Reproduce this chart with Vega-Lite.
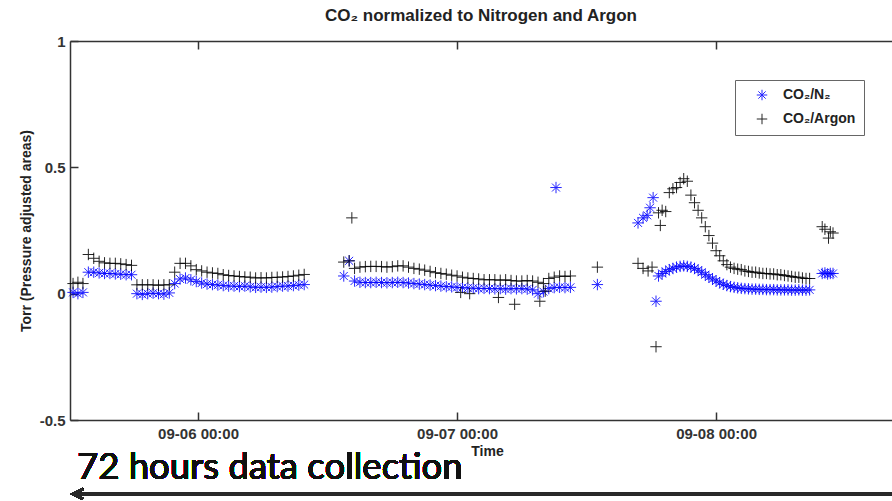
{
  "$schema": "https://vega.github.io/schema/vega-lite/v6.json",
  "width": 822,
  "height": 379,
  "autosize": {"type": "none"},
  "padding": {"left": 70, "top": 41, "right": 0, "bottom": 81},
  "background": "white",
  "title": {"text": "CO₂ normalized to Nitrogen and Argon", "font": "Liberation Sans", "fontSize": 17, "fontWeight": "bold", "color": "#222", "anchor": "middle", "baseline": "alphabetic", "offset": -4, "frame": "group"},
  "config": {
    "view": {"stroke": null},
    "axis": {"labelFont": "Liberation Sans", "labelFontSize": 15, "labelFontWeight": "bold", "labelColor": "#333", "titleFont": "Liberation Sans", "titleFontSize": 14, "titleFontWeight": "bold", "titleColor": "#222", "domainColor": "#333", "domainWidth": 1.5, "tickColor": "#333", "tickWidth": 1.5, "grid": false, "labelFlush": false, "labelOverlap": false}
  },
  "resolve": {"axis": {"x": "independent", "y": "independent"}},
  "data": {"values": [
    {"t": "2013-09-05T12:25", "s": "CO₂/N₂", "v": 0.005},
    {"t": "2013-09-05T12:52", "s": "CO₂/N₂", "v": 0.0},
    {"t": "2013-09-05T13:20", "s": "CO₂/N₂", "v": 0.005},
    {"t": "2013-09-05T13:50", "s": "CO₂/N₂", "v": 0.085},
    {"t": "2013-09-05T14:20", "s": "CO₂/N₂", "v": 0.085},
    {"t": "2013-09-05T14:50", "s": "CO₂/N₂", "v": 0.082},
    {"t": "2013-09-05T15:20", "s": "CO₂/N₂", "v": 0.08},
    {"t": "2013-09-05T15:50", "s": "CO₂/N₂", "v": 0.08},
    {"t": "2013-09-05T16:20", "s": "CO₂/N₂", "v": 0.078},
    {"t": "2013-09-05T16:50", "s": "CO₂/N₂", "v": 0.077},
    {"t": "2013-09-05T17:20", "s": "CO₂/N₂", "v": 0.075},
    {"t": "2013-09-05T17:50", "s": "CO₂/N₂", "v": 0.075},
    {"t": "2013-09-05T18:20", "s": "CO₂/N₂", "v": 0.0},
    {"t": "2013-09-05T18:50", "s": "CO₂/N₂", "v": -0.003},
    {"t": "2013-09-05T19:20", "s": "CO₂/N₂", "v": 0.0},
    {"t": "2013-09-05T19:50", "s": "CO₂/N₂", "v": 0.002},
    {"t": "2013-09-05T20:20", "s": "CO₂/N₂", "v": 0.0},
    {"t": "2013-09-05T20:50", "s": "CO₂/N₂", "v": -0.002},
    {"t": "2013-09-05T21:20", "s": "CO₂/N₂", "v": 0.003},
    {"t": "2013-09-05T21:50", "s": "CO₂/N₂", "v": 0.04},
    {"t": "2013-09-05T22:20", "s": "CO₂/N₂", "v": 0.058},
    {"t": "2013-09-05T22:50", "s": "CO₂/N₂", "v": 0.062},
    {"t": "2013-09-05T23:20", "s": "CO₂/N₂", "v": 0.055},
    {"t": "2013-09-05T23:50", "s": "CO₂/N₂", "v": 0.048},
    {"t": "2013-09-06T00:20", "s": "CO₂/N₂", "v": 0.042},
    {"t": "2013-09-06T00:50", "s": "CO₂/N₂", "v": 0.038},
    {"t": "2013-09-06T01:20", "s": "CO₂/N₂", "v": 0.036},
    {"t": "2013-09-06T01:50", "s": "CO₂/N₂", "v": 0.034},
    {"t": "2013-09-06T02:20", "s": "CO₂/N₂", "v": 0.032},
    {"t": "2013-09-06T02:50", "s": "CO₂/N₂", "v": 0.03},
    {"t": "2013-09-06T03:20", "s": "CO₂/N₂", "v": 0.03},
    {"t": "2013-09-06T03:50", "s": "CO₂/N₂", "v": 0.028},
    {"t": "2013-09-06T04:20", "s": "CO₂/N₂", "v": 0.03},
    {"t": "2013-09-06T04:50", "s": "CO₂/N₂", "v": 0.027},
    {"t": "2013-09-06T05:20", "s": "CO₂/N₂", "v": 0.025},
    {"t": "2013-09-06T05:50", "s": "CO₂/N₂", "v": 0.026},
    {"t": "2013-09-06T06:20", "s": "CO₂/N₂", "v": 0.025},
    {"t": "2013-09-06T06:50", "s": "CO₂/N₂", "v": 0.026},
    {"t": "2013-09-06T07:20", "s": "CO₂/N₂", "v": 0.028},
    {"t": "2013-09-06T07:50", "s": "CO₂/N₂", "v": 0.03},
    {"t": "2013-09-06T08:20", "s": "CO₂/N₂", "v": 0.03},
    {"t": "2013-09-06T08:50", "s": "CO₂/N₂", "v": 0.032},
    {"t": "2013-09-06T09:20", "s": "CO₂/N₂", "v": 0.034},
    {"t": "2013-09-06T09:50", "s": "CO₂/N₂", "v": 0.036},
    {"t": "2013-09-06T13:30", "s": "CO₂/N₂", "v": 0.07},
    {"t": "2013-09-06T14:00", "s": "CO₂/N₂", "v": 0.13},
    {"t": "2013-09-06T14:30", "s": "CO₂/N₂", "v": 0.05},
    {"t": "2013-09-06T15:00", "s": "CO₂/N₂", "v": 0.045},
    {"t": "2013-09-06T15:30", "s": "CO₂/N₂", "v": 0.044},
    {"t": "2013-09-06T16:00", "s": "CO₂/N₂", "v": 0.044},
    {"t": "2013-09-06T16:30", "s": "CO₂/N₂", "v": 0.045},
    {"t": "2013-09-06T17:00", "s": "CO₂/N₂", "v": 0.044},
    {"t": "2013-09-06T17:30", "s": "CO₂/N₂", "v": 0.043},
    {"t": "2013-09-06T18:00", "s": "CO₂/N₂", "v": 0.044},
    {"t": "2013-09-06T18:30", "s": "CO₂/N₂", "v": 0.045},
    {"t": "2013-09-06T19:00", "s": "CO₂/N₂", "v": 0.044},
    {"t": "2013-09-06T19:30", "s": "CO₂/N₂", "v": 0.042},
    {"t": "2013-09-06T20:00", "s": "CO₂/N₂", "v": 0.04},
    {"t": "2013-09-06T20:30", "s": "CO₂/N₂", "v": 0.038},
    {"t": "2013-09-06T21:00", "s": "CO₂/N₂", "v": 0.036},
    {"t": "2013-09-06T21:30", "s": "CO₂/N₂", "v": 0.034},
    {"t": "2013-09-06T22:00", "s": "CO₂/N₂", "v": 0.032},
    {"t": "2013-09-06T22:30", "s": "CO₂/N₂", "v": 0.03},
    {"t": "2013-09-06T23:00", "s": "CO₂/N₂", "v": 0.028},
    {"t": "2013-09-06T23:30", "s": "CO₂/N₂", "v": 0.027},
    {"t": "2013-09-07T00:00", "s": "CO₂/N₂", "v": 0.025},
    {"t": "2013-09-07T00:30", "s": "CO₂/N₂", "v": 0.024},
    {"t": "2013-09-07T01:00", "s": "CO₂/N₂", "v": 0.022},
    {"t": "2013-09-07T01:30", "s": "CO₂/N₂", "v": 0.022},
    {"t": "2013-09-07T02:00", "s": "CO₂/N₂", "v": 0.02},
    {"t": "2013-09-07T02:30", "s": "CO₂/N₂", "v": 0.021},
    {"t": "2013-09-07T03:00", "s": "CO₂/N₂", "v": 0.02},
    {"t": "2013-09-07T03:30", "s": "CO₂/N₂", "v": 0.019},
    {"t": "2013-09-07T04:00", "s": "CO₂/N₂", "v": 0.02},
    {"t": "2013-09-07T04:30", "s": "CO₂/N₂", "v": 0.018},
    {"t": "2013-09-07T05:00", "s": "CO₂/N₂", "v": 0.02},
    {"t": "2013-09-07T05:30", "s": "CO₂/N₂", "v": 0.019},
    {"t": "2013-09-07T06:00", "s": "CO₂/N₂", "v": 0.02},
    {"t": "2013-09-07T06:30", "s": "CO₂/N₂", "v": 0.018},
    {"t": "2013-09-07T07:00", "s": "CO₂/N₂", "v": 0.015},
    {"t": "2013-09-07T07:30", "s": "CO₂/N₂", "v": 0.0},
    {"t": "2013-09-07T08:00", "s": "CO₂/N₂", "v": 0.008},
    {"t": "2013-09-07T08:30", "s": "CO₂/N₂", "v": 0.02},
    {"t": "2013-09-07T09:00", "s": "CO₂/N₂", "v": 0.024},
    {"t": "2013-09-07T09:10", "s": "CO₂/N₂", "v": 0.42},
    {"t": "2013-09-07T09:30", "s": "CO₂/N₂", "v": 0.025},
    {"t": "2013-09-07T10:00", "s": "CO₂/N₂", "v": 0.024},
    {"t": "2013-09-07T10:30", "s": "CO₂/N₂", "v": 0.025},
    {"t": "2013-09-07T13:00", "s": "CO₂/N₂", "v": 0.036},
    {"t": "2013-09-07T16:46", "s": "CO₂/N₂", "v": 0.28},
    {"t": "2013-09-07T17:14", "s": "CO₂/N₂", "v": 0.3},
    {"t": "2013-09-07T17:37", "s": "CO₂/N₂", "v": 0.31},
    {"t": "2013-09-07T17:53", "s": "CO₂/N₂", "v": 0.34},
    {"t": "2013-09-07T18:10", "s": "CO₂/N₂", "v": 0.38},
    {"t": "2013-09-07T18:26", "s": "CO₂/N₂", "v": -0.03},
    {"t": "2013-09-07T18:40", "s": "CO₂/N₂", "v": 0.07},
    {"t": "2013-09-07T19:00", "s": "CO₂/N₂", "v": 0.08},
    {"t": "2013-09-07T19:20", "s": "CO₂/N₂", "v": 0.088},
    {"t": "2013-09-07T19:40", "s": "CO₂/N₂", "v": 0.095},
    {"t": "2013-09-07T20:00", "s": "CO₂/N₂", "v": 0.1},
    {"t": "2013-09-07T20:20", "s": "CO₂/N₂", "v": 0.105},
    {"t": "2013-09-07T20:40", "s": "CO₂/N₂", "v": 0.108},
    {"t": "2013-09-07T21:00", "s": "CO₂/N₂", "v": 0.11},
    {"t": "2013-09-07T21:20", "s": "CO₂/N₂", "v": 0.108},
    {"t": "2013-09-07T21:40", "s": "CO₂/N₂", "v": 0.105},
    {"t": "2013-09-07T22:00", "s": "CO₂/N₂", "v": 0.1},
    {"t": "2013-09-07T22:20", "s": "CO₂/N₂", "v": 0.093},
    {"t": "2013-09-07T22:40", "s": "CO₂/N₂", "v": 0.085},
    {"t": "2013-09-07T23:00", "s": "CO₂/N₂", "v": 0.075},
    {"t": "2013-09-07T23:20", "s": "CO₂/N₂", "v": 0.066},
    {"t": "2013-09-07T23:40", "s": "CO₂/N₂", "v": 0.058},
    {"t": "2013-09-08T00:00", "s": "CO₂/N₂", "v": 0.05},
    {"t": "2013-09-08T00:20", "s": "CO₂/N₂", "v": 0.043},
    {"t": "2013-09-08T00:40", "s": "CO₂/N₂", "v": 0.037},
    {"t": "2013-09-08T01:00", "s": "CO₂/N₂", "v": 0.032},
    {"t": "2013-09-08T01:20", "s": "CO₂/N₂", "v": 0.028},
    {"t": "2013-09-08T01:40", "s": "CO₂/N₂", "v": 0.025},
    {"t": "2013-09-08T02:00", "s": "CO₂/N₂", "v": 0.023},
    {"t": "2013-09-08T02:20", "s": "CO₂/N₂", "v": 0.021},
    {"t": "2013-09-08T02:40", "s": "CO₂/N₂", "v": 0.02},
    {"t": "2013-09-08T03:00", "s": "CO₂/N₂", "v": 0.019},
    {"t": "2013-09-08T03:20", "s": "CO₂/N₂", "v": 0.018},
    {"t": "2013-09-08T03:40", "s": "CO₂/N₂", "v": 0.018},
    {"t": "2013-09-08T04:00", "s": "CO₂/N₂", "v": 0.017},
    {"t": "2013-09-08T04:20", "s": "CO₂/N₂", "v": 0.017},
    {"t": "2013-09-08T04:40", "s": "CO₂/N₂", "v": 0.016},
    {"t": "2013-09-08T05:00", "s": "CO₂/N₂", "v": 0.016},
    {"t": "2013-09-08T05:20", "s": "CO₂/N₂", "v": 0.016},
    {"t": "2013-09-08T05:40", "s": "CO₂/N₂", "v": 0.015},
    {"t": "2013-09-08T06:00", "s": "CO₂/N₂", "v": 0.015},
    {"t": "2013-09-08T06:20", "s": "CO₂/N₂", "v": 0.015},
    {"t": "2013-09-08T06:40", "s": "CO₂/N₂", "v": 0.015},
    {"t": "2013-09-08T07:00", "s": "CO₂/N₂", "v": 0.014},
    {"t": "2013-09-08T07:20", "s": "CO₂/N₂", "v": 0.014},
    {"t": "2013-09-08T07:40", "s": "CO₂/N₂", "v": 0.015},
    {"t": "2013-09-08T08:00", "s": "CO₂/N₂", "v": 0.014},
    {"t": "2013-09-08T08:20", "s": "CO₂/N₂", "v": 0.014},
    {"t": "2013-09-08T08:40", "s": "CO₂/N₂", "v": 0.015},
    {"t": "2013-09-08T09:50", "s": "CO₂/N₂", "v": 0.08},
    {"t": "2013-09-08T10:05", "s": "CO₂/N₂", "v": 0.082},
    {"t": "2013-09-08T10:20", "s": "CO₂/N₂", "v": 0.078},
    {"t": "2013-09-08T10:35", "s": "CO₂/N₂", "v": 0.08},
    {"t": "2013-09-08T10:50", "s": "CO₂/N₂", "v": 0.08},

    {"t": "2013-09-05T12:25", "s": "CO₂/Argon", "v": 0.04},
    {"t": "2013-09-05T12:52", "s": "CO₂/Argon", "v": 0.045},
    {"t": "2013-09-05T13:20", "s": "CO₂/Argon", "v": 0.04},
    {"t": "2013-09-05T13:50", "s": "CO₂/Argon", "v": 0.155},
    {"t": "2013-09-05T14:20", "s": "CO₂/Argon", "v": 0.14},
    {"t": "2013-09-05T14:50", "s": "CO₂/Argon", "v": 0.128},
    {"t": "2013-09-05T15:20", "s": "CO₂/Argon", "v": 0.122},
    {"t": "2013-09-05T15:50", "s": "CO₂/Argon", "v": 0.12},
    {"t": "2013-09-05T16:20", "s": "CO₂/Argon", "v": 0.12},
    {"t": "2013-09-05T16:50", "s": "CO₂/Argon", "v": 0.118},
    {"t": "2013-09-05T17:20", "s": "CO₂/Argon", "v": 0.115},
    {"t": "2013-09-05T17:50", "s": "CO₂/Argon", "v": 0.112},
    {"t": "2013-09-05T18:20", "s": "CO₂/Argon", "v": 0.035},
    {"t": "2013-09-05T18:50", "s": "CO₂/Argon", "v": 0.035},
    {"t": "2013-09-05T19:20", "s": "CO₂/Argon", "v": 0.035},
    {"t": "2013-09-05T19:50", "s": "CO₂/Argon", "v": 0.035},
    {"t": "2013-09-05T20:20", "s": "CO₂/Argon", "v": 0.033},
    {"t": "2013-09-05T20:50", "s": "CO₂/Argon", "v": 0.035},
    {"t": "2013-09-05T21:20", "s": "CO₂/Argon", "v": 0.035},
    {"t": "2013-09-05T21:50", "s": "CO₂/Argon", "v": 0.085},
    {"t": "2013-09-05T22:20", "s": "CO₂/Argon", "v": 0.12},
    {"t": "2013-09-05T22:50", "s": "CO₂/Argon", "v": 0.12},
    {"t": "2013-09-05T23:20", "s": "CO₂/Argon", "v": 0.11},
    {"t": "2013-09-05T23:50", "s": "CO₂/Argon", "v": 0.095},
    {"t": "2013-09-06T00:20", "s": "CO₂/Argon", "v": 0.09},
    {"t": "2013-09-06T00:50", "s": "CO₂/Argon", "v": 0.085},
    {"t": "2013-09-06T01:20", "s": "CO₂/Argon", "v": 0.082},
    {"t": "2013-09-06T01:50", "s": "CO₂/Argon", "v": 0.08},
    {"t": "2013-09-06T02:20", "s": "CO₂/Argon", "v": 0.075},
    {"t": "2013-09-06T02:50", "s": "CO₂/Argon", "v": 0.072},
    {"t": "2013-09-06T03:20", "s": "CO₂/Argon", "v": 0.07},
    {"t": "2013-09-06T03:50", "s": "CO₂/Argon", "v": 0.068},
    {"t": "2013-09-06T04:20", "s": "CO₂/Argon", "v": 0.066},
    {"t": "2013-09-06T04:50", "s": "CO₂/Argon", "v": 0.065},
    {"t": "2013-09-06T05:20", "s": "CO₂/Argon", "v": 0.062},
    {"t": "2013-09-06T05:50", "s": "CO₂/Argon", "v": 0.063},
    {"t": "2013-09-06T06:20", "s": "CO₂/Argon", "v": 0.062},
    {"t": "2013-09-06T06:50", "s": "CO₂/Argon", "v": 0.064},
    {"t": "2013-09-06T07:20", "s": "CO₂/Argon", "v": 0.065},
    {"t": "2013-09-06T07:50", "s": "CO₂/Argon", "v": 0.066},
    {"t": "2013-09-06T08:20", "s": "CO₂/Argon", "v": 0.068},
    {"t": "2013-09-06T08:50", "s": "CO₂/Argon", "v": 0.07},
    {"t": "2013-09-06T09:20", "s": "CO₂/Argon", "v": 0.073},
    {"t": "2013-09-06T09:50", "s": "CO₂/Argon", "v": 0.076},
    {"t": "2013-09-06T13:30", "s": "CO₂/Argon", "v": 0.125},
    {"t": "2013-09-06T14:00", "s": "CO₂/Argon", "v": 0.13},
    {"t": "2013-09-06T14:15", "s": "CO₂/Argon", "v": 0.3},
    {"t": "2013-09-06T14:30", "s": "CO₂/Argon", "v": 0.1},
    {"t": "2013-09-06T15:00", "s": "CO₂/Argon", "v": 0.105},
    {"t": "2013-09-06T15:30", "s": "CO₂/Argon", "v": 0.107},
    {"t": "2013-09-06T16:00", "s": "CO₂/Argon", "v": 0.108},
    {"t": "2013-09-06T16:30", "s": "CO₂/Argon", "v": 0.108},
    {"t": "2013-09-06T17:00", "s": "CO₂/Argon", "v": 0.107},
    {"t": "2013-09-06T17:30", "s": "CO₂/Argon", "v": 0.105},
    {"t": "2013-09-06T18:00", "s": "CO₂/Argon", "v": 0.107},
    {"t": "2013-09-06T18:30", "s": "CO₂/Argon", "v": 0.11},
    {"t": "2013-09-06T19:00", "s": "CO₂/Argon", "v": 0.11},
    {"t": "2013-09-06T19:30", "s": "CO₂/Argon", "v": 0.105},
    {"t": "2013-09-06T20:00", "s": "CO₂/Argon", "v": 0.1},
    {"t": "2013-09-06T20:30", "s": "CO₂/Argon", "v": 0.097},
    {"t": "2013-09-06T21:00", "s": "CO₂/Argon", "v": 0.093},
    {"t": "2013-09-06T21:30", "s": "CO₂/Argon", "v": 0.088},
    {"t": "2013-09-06T22:00", "s": "CO₂/Argon", "v": 0.083},
    {"t": "2013-09-06T22:30", "s": "CO₂/Argon", "v": 0.08},
    {"t": "2013-09-06T23:00", "s": "CO₂/Argon", "v": 0.077},
    {"t": "2013-09-06T23:30", "s": "CO₂/Argon", "v": 0.073},
    {"t": "2013-09-07T00:00", "s": "CO₂/Argon", "v": 0.07},
    {"t": "2013-09-07T00:20", "s": "CO₂/Argon", "v": 0.005},
    {"t": "2013-09-07T00:30", "s": "CO₂/Argon", "v": 0.065},
    {"t": "2013-09-07T01:00", "s": "CO₂/Argon", "v": 0.062},
    {"t": "2013-09-07T01:10", "s": "CO₂/Argon", "v": 0.0},
    {"t": "2013-09-07T01:30", "s": "CO₂/Argon", "v": 0.06},
    {"t": "2013-09-07T02:00", "s": "CO₂/Argon", "v": 0.058},
    {"t": "2013-09-07T02:30", "s": "CO₂/Argon", "v": 0.055},
    {"t": "2013-09-07T03:00", "s": "CO₂/Argon", "v": 0.055},
    {"t": "2013-09-07T03:30", "s": "CO₂/Argon", "v": 0.055},
    {"t": "2013-09-07T03:50", "s": "CO₂/Argon", "v": -0.015},
    {"t": "2013-09-07T04:00", "s": "CO₂/Argon", "v": 0.053},
    {"t": "2013-09-07T04:30", "s": "CO₂/Argon", "v": 0.055},
    {"t": "2013-09-07T05:00", "s": "CO₂/Argon", "v": 0.052},
    {"t": "2013-09-07T05:20", "s": "CO₂/Argon", "v": -0.042},
    {"t": "2013-09-07T05:30", "s": "CO₂/Argon", "v": 0.05},
    {"t": "2013-09-07T06:00", "s": "CO₂/Argon", "v": 0.05},
    {"t": "2013-09-07T06:30", "s": "CO₂/Argon", "v": 0.052},
    {"t": "2013-09-07T07:00", "s": "CO₂/Argon", "v": 0.05},
    {"t": "2013-09-07T07:30", "s": "CO₂/Argon", "v": 0.045},
    {"t": "2013-09-07T07:40", "s": "CO₂/Argon", "v": -0.03},
    {"t": "2013-09-07T08:00", "s": "CO₂/Argon", "v": 0.04},
    {"t": "2013-09-07T08:10", "s": "CO₂/Argon", "v": 0.01},
    {"t": "2013-09-07T08:30", "s": "CO₂/Argon", "v": 0.06},
    {"t": "2013-09-07T09:00", "s": "CO₂/Argon", "v": 0.065},
    {"t": "2013-09-07T09:30", "s": "CO₂/Argon", "v": 0.07},
    {"t": "2013-09-07T10:00", "s": "CO₂/Argon", "v": 0.068},
    {"t": "2013-09-07T10:30", "s": "CO₂/Argon", "v": 0.07},
    {"t": "2013-09-07T13:00", "s": "CO₂/Argon", "v": 0.105},
    {"t": "2013-09-07T16:46", "s": "CO₂/Argon", "v": 0.12},
    {"t": "2013-09-07T17:14", "s": "CO₂/Argon", "v": 0.1},
    {"t": "2013-09-07T17:42", "s": "CO₂/Argon", "v": 0.09},
    {"t": "2013-09-07T18:04", "s": "CO₂/Argon", "v": 0.105},
    {"t": "2013-09-07T18:26", "s": "CO₂/Argon", "v": -0.21},
    {"t": "2013-09-07T18:40", "s": "CO₂/Argon", "v": 0.32},
    {"t": "2013-09-07T18:50", "s": "CO₂/Argon", "v": 0.27},
    {"t": "2013-09-07T19:00", "s": "CO₂/Argon", "v": 0.33},
    {"t": "2013-09-07T19:20", "s": "CO₂/Argon", "v": 0.325},
    {"t": "2013-09-07T19:40", "s": "CO₂/Argon", "v": 0.4},
    {"t": "2013-09-07T20:00", "s": "CO₂/Argon", "v": 0.415},
    {"t": "2013-09-07T20:20", "s": "CO₂/Argon", "v": 0.42},
    {"t": "2013-09-07T20:40", "s": "CO₂/Argon", "v": 0.44},
    {"t": "2013-09-07T21:00", "s": "CO₂/Argon", "v": 0.455},
    {"t": "2013-09-07T21:20", "s": "CO₂/Argon", "v": 0.445},
    {"t": "2013-09-07T21:40", "s": "CO₂/Argon", "v": 0.39},
    {"t": "2013-09-07T22:00", "s": "CO₂/Argon", "v": 0.36},
    {"t": "2013-09-07T22:20", "s": "CO₂/Argon", "v": 0.33},
    {"t": "2013-09-07T22:40", "s": "CO₂/Argon", "v": 0.3},
    {"t": "2013-09-07T23:00", "s": "CO₂/Argon", "v": 0.265},
    {"t": "2013-09-07T23:20", "s": "CO₂/Argon", "v": 0.23},
    {"t": "2013-09-07T23:40", "s": "CO₂/Argon", "v": 0.2},
    {"t": "2013-09-08T00:00", "s": "CO₂/Argon", "v": 0.17},
    {"t": "2013-09-08T00:20", "s": "CO₂/Argon", "v": 0.15},
    {"t": "2013-09-08T00:40", "s": "CO₂/Argon", "v": 0.13},
    {"t": "2013-09-08T01:00", "s": "CO₂/Argon", "v": 0.115},
    {"t": "2013-09-08T01:20", "s": "CO₂/Argon", "v": 0.105},
    {"t": "2013-09-08T01:40", "s": "CO₂/Argon", "v": 0.1},
    {"t": "2013-09-08T02:00", "s": "CO₂/Argon", "v": 0.097},
    {"t": "2013-09-08T02:20", "s": "CO₂/Argon", "v": 0.095},
    {"t": "2013-09-08T02:40", "s": "CO₂/Argon", "v": 0.09},
    {"t": "2013-09-08T03:00", "s": "CO₂/Argon", "v": 0.088},
    {"t": "2013-09-08T03:20", "s": "CO₂/Argon", "v": 0.085},
    {"t": "2013-09-08T03:40", "s": "CO₂/Argon", "v": 0.085},
    {"t": "2013-09-08T04:00", "s": "CO₂/Argon", "v": 0.082},
    {"t": "2013-09-08T04:20", "s": "CO₂/Argon", "v": 0.08},
    {"t": "2013-09-08T04:40", "s": "CO₂/Argon", "v": 0.08},
    {"t": "2013-09-08T05:00", "s": "CO₂/Argon", "v": 0.078},
    {"t": "2013-09-08T05:20", "s": "CO₂/Argon", "v": 0.078},
    {"t": "2013-09-08T05:40", "s": "CO₂/Argon", "v": 0.075},
    {"t": "2013-09-08T06:00", "s": "CO₂/Argon", "v": 0.075},
    {"t": "2013-09-08T06:20", "s": "CO₂/Argon", "v": 0.072},
    {"t": "2013-09-08T06:40", "s": "CO₂/Argon", "v": 0.07},
    {"t": "2013-09-08T07:00", "s": "CO₂/Argon", "v": 0.068},
    {"t": "2013-09-08T07:20", "s": "CO₂/Argon", "v": 0.065},
    {"t": "2013-09-08T07:40", "s": "CO₂/Argon", "v": 0.065},
    {"t": "2013-09-08T08:00", "s": "CO₂/Argon", "v": 0.062},
    {"t": "2013-09-08T08:20", "s": "CO₂/Argon", "v": 0.06},
    {"t": "2013-09-08T08:40", "s": "CO₂/Argon", "v": 0.06},
    {"t": "2013-09-08T09:50", "s": "CO₂/Argon", "v": 0.265},
    {"t": "2013-09-08T10:05", "s": "CO₂/Argon", "v": 0.255},
    {"t": "2013-09-08T10:25", "s": "CO₂/Argon", "v": 0.22},
    {"t": "2013-09-08T10:35", "s": "CO₂/Argon", "v": 0.245},
    {"t": "2013-09-08T10:50", "s": "CO₂/Argon", "v": 0.24}
  ]},
  "layer": [
    {
      "mark": {"type": "point", "filled": false, "strokeWidth": 1, "size": 130, "opacity": 0.85},
      "encoding": {
        "x": {"field": "t", "type": "temporal",
          "scale": {"domain": [{"year": 2013, "month": 9, "date": 5, "hours": 12, "minutes": 8}, {"year": 2013, "month": 9, "date": 8, "hours": 16, "minutes": 18}]},
          "axis": {"orient": "bottom", "title": "Time", "format": "%m-%d %H:%M",
            "values": [{"year": 2013, "month": 9, "date": 6}, {"year": 2013, "month": 9, "date": 7}, {"year": 2013, "month": 9, "date": 8}],
            "tickSize": -8, "labelPadding": 14, "titlePadding": 3, "titleX": 417}},
        "y": {"field": "v", "type": "quantitative",
          "scale": {"domain": [-0.5, 1], "nice": false, "zero": false},
          "axis": {"orient": "left", "title": "Torr (Pressure adjusted areas)", "values": [-0.5, 0, 0.5, 1],
            "labelExpr": "datum.value < 0 ? '-' + format(-datum.value, '~g') : format(datum.value, '~g')",
            "tickSize": -8, "labelPadding": 13, "titlePadding": 6}},
        "color": {"field": "s", "type": "nominal",
          "scale": {"domain": ["CO₂/N₂", "CO₂/Argon"], "range": ["#0000ff", "#000000"]},
          "legend": {"orient": "none", "legendX": 665, "legendY": 39, "title": null, "strokeColor": "#666", "fillColor": "#ffffff", "padding": 8, "labelFont": "Liberation Sans", "labelFontSize": 14, "labelFontWeight": "bold", "labelColor": "#222", "symbolOffset": 12, "labelOffset": 14, "rowPadding": 8, "symbolStrokeWidth": 1, "symbolSize": 110}},
        "shape": {"field": "s", "type": "nominal",
          "scale": {"domain": ["CO₂/N₂", "CO₂/Argon"], "range": ["M-1,0L1,0M0,-1L0,1M-0.7,-0.7L0.7,0.7M-0.7,0.7L0.7,-0.7", "M-1,0L1,0M0,-1L0,1"]},
          "legend": {"orient": "none", "legendX": 665, "legendY": 39, "title": null, "strokeColor": "#666", "fillColor": "#ffffff", "padding": 8, "labelFont": "Liberation Sans", "labelFontSize": 14, "labelFontWeight": "bold", "labelColor": "#222", "symbolOffset": 12, "labelOffset": 14, "rowPadding": 8, "symbolStrokeWidth": 1, "symbolSize": 110}}
      }
    },
    {
      "mark": {"type": "rule", "strokeWidth": 2.5, "color": "#2a2a2a"},
      "encoding": {
        "x": {"datum": {"year": 2013, "month": 9, "date": 5, "hours": 12, "minutes": 25}, "type": "temporal",
          "scale": {"domain": [{"year": 2013, "month": 9, "date": 5, "hours": 12, "minutes": 8}, {"year": 2013, "month": 9, "date": 8, "hours": 16, "minutes": 18}]},
          "axis": {"orient": "top", "labels": false, "title": null, "domain": true, "ticks": true, "tickSize": -8,
            "values": [{"year": 2013, "month": 9, "date": 6}, {"year": 2013, "month": 9, "date": 7}, {"year": 2013, "month": 9, "date": 8}]}},
        "x2": {"datum": {"year": 2013, "month": 9, "date": 8, "hours": 16, "minutes": 18}},
        "y": {"datum": -0.7928, "type": "quantitative", "scale": {"domain": [-0.5, 1], "nice": false, "zero": false}, "axis": null}
      }
    },
    {
      "mark": {"type": "point", "shape": "M1,-1L-1,0L1,1", "filled": false, "size": 100, "strokeWidth": 2.5, "color": "#2a2a2a", "opacity": 1},
      "encoding": {
        "x": {"datum": {"year": 2013, "month": 9, "date": 5, "hours": 12, "minutes": 53}, "type": "temporal", "axis": null},
        "y": {"datum": -0.7928, "type": "quantitative", "axis": null}
      }
    },
    {
      "mark": {"type": "text", "text": "72 hours data collection", "font": "Lato", "fontSize": 36.5, "align": "left", "baseline": "alphabetic", "color": "#111"},
      "encoding": {
        "x": {"datum": {"year": 2013, "month": 9, "date": 5, "hours": 12, "minutes": 47}, "type": "temporal", "axis": null},
        "y": {"datum": -0.7335, "type": "quantitative", "axis": null}
      }
    }
  ]
}
